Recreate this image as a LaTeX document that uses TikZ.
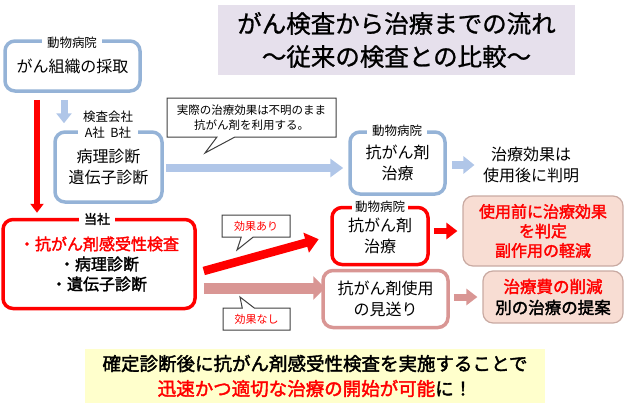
\documentclass[tikz,border=0pt]{standalone}
\usepackage{fontspec}
\setmainfont{Noto Sans CJK JP}[AutoFakeBold=2]
\newfontfamily\titlefont{Noto Sans CJK JP}[FakeBold=1]
\usepackage{xcolor}
\usetikzlibrary{arrows.meta,shapes.callouts}
\definecolor{boxblue}{HTML}{95B3D7}
\definecolor{arrblue}{HTML}{B0C6E8}
\definecolor{boxpink}{HTML}{D99694}
\definecolor{salmon}{HTML}{F8DDD3}
\definecolor{salmonline}{HTML}{C9AAA2}
\definecolor{lavender}{HTML}{E6E0EC}
\definecolor{paleyellow}{HTML}{FFFFCC}
\tikzstyle{blue box}=[
    draw = boxblue,
    line width = 3.5pt,
    fill = white,
    rounded corners = 10pt,
    align = center
]
\tikzstyle{red box}=[blue box, draw = red]
\tikzstyle{pink box}=[blue box, draw = boxpink]
\tikzstyle{result box}=[
    draw = salmonline,
    line width = 1.2pt,
    fill = salmon,
    rounded corners = 10pt,
    align = center,
    font = \fontsize{16}{19.5}\selectfont\bfseries
]
\tikzstyle{place}=[
    fill = white,
    inner xsep = 5pt,
    inner ysep = 1pt,
    align = center,
    font = \fontsize{12.5}{16}\selectfont
]
\tikzstyle{note}=[
    rectangle callout,
    draw = black!75,
    fill = white,
    line width = 1pt,
    align = center,
    inner sep = 2pt
]

\begin{document}
\begin{tikzpicture}[x=1pt, y=-1pt, font=\fontsize{16}{21}\selectfont]
        \useasboundingbox (0,0) rectangle (625,410);

        \node[fill = lavender, minimum width = 357, minimum height = 70, align = center,
              font = \fontsize{24.5}{33}\titlefont] (title) at (396.5,40)
              {がん検査から治療までの流れ\\～従来の検査との比較～};

        \node[blue box, minimum width = 135, minimum height = 50] (sample) at (72.5,66) {がん組織の採取};
        \node[place] (hosp1) at (72,43) {動物病院};

        \node[blue box, minimum width = 107, minimum height = 70] (lab) at (108.5,167) {病理診断\\遺伝子診断};
        \node[place] (labname) at (108,125) {検査会社\\A社\ \ B社};

        \node[blue box, minimum width = 95, minimum height = 62] (drug1) at (397.5,163) {抗がん剤\\治療};
        \node[place] (hosp2) at (397,131) {動物病院};
        \node[align = center] (after) at (531,165) {治療効果は\\使用後に判明};

        \node[red box, minimum width = 192, minimum height = 89, font = \fontsize{16}{20}\selectfont\bfseries]
              (us) at (99,264) {\textcolor{red}{・抗がん剤感受性検査}\\・病理診断\\・遺伝子診断};
        \node[place, font = \fontsize{13}{16}\selectfont\bfseries] (usname) at (97,219) {当社};

        \node[red box, minimum width = 96, minimum height = 57] (drug2) at (380,236) {抗がん剤\\治療};
        \node[place, inner xsep = 3pt] (hosp3) at (380,207) {動物病院};
        \node[result box, minimum width = 160, minimum height = 70, text = red] (merit) at (543,231)
              {使用前に治療効果\\を判定\\副作用の軽減};

        \node[pink box, minimum width = 125, minimum height = 57] (skip) at (385.5,299) {抗がん剤使用\\の見送り};
        \node[result box, minimum width = 140, minimum height = 52, font = \fontsize{16.5}{21}\selectfont\bfseries]
              (other) at (553,297) {\textcolor{red}{治療費の削減}\\別の治療の提案};

        \node[fill = paleyellow, minimum width = 460, minimum height = 54, align = center,
              font = \fontsize{18.5}{25}\selectfont\bfseries] (bottom) at (315,376)
              {確定診断後に抗がん剤感受性検査を実施することで\\\textcolor{red}{迅速かつ適切な治療の開始が可能}に！};

        % arrows
        \draw[arrblue, line width = 7pt, -{Triangle[width=15pt,length=10pt]}, shorten < = 7pt, shorten > = 7pt]
              ([xshift=-8.5]sample.south) -- ([xshift=-8.5]sample.south |- lab.north);
        \draw[red, line width = 5.5pt, -{Triangle[width=13pt,length=9pt]}, shorten < = 7pt, shorten > = 5pt]
              ([xshift=-35.5]sample.south) -- ([xshift=-35.5]sample.south |- us.north);
        \draw[arrblue, line width = 8pt, -{Triangle[width=18pt,length=13pt]}, shorten < = 2pt, shorten > = 5pt]
              ([yshift=-1]lab.east) -- ([yshift=-1]lab.east -| drug1.west);
        \draw[arrblue, line width = 8pt, -{Triangle[width=17pt,length=11pt]}, shorten < = 5pt, shorten > = 5pt]
              (drug1.east |- after.west) -- (after.west);
        \draw[red, line width = 8.5pt, -{Triangle[width=20pt,length=13pt]}, shorten > = 12pt]
              ([xshift=7,yshift=-7]us.east) -- (drug2.west);
        \draw[boxpink, line width = 11pt, -{Triangle[width=23pt,length=12pt]}, shorten > = 3pt]
              ([xshift=7,yshift=-24]us.east) -- ([xshift=7,yshift=-24]us.east -| skip.west);
        \draw[red, line width = 6.5pt, -{Triangle[width=16pt,length=11pt]}, shorten < = 4pt, shorten > = 5pt]
              (drug2.east |- merit.west) -- (merit.west);
        \draw[boxpink, line width = 7pt, -{Triangle[width=16pt,length=11pt]}, shorten < = 4pt, shorten > = 5pt]
              (skip.east |- other.west) -- (other.west);

        % notes
        \node[note, minimum width = 169, minimum height = 39, callout pointer width = 18pt,
              callout absolute pointer = {(205,153)}, font = \fontsize{11.5}{15}\selectfont]
              (unknown) at (251.5,117.5) {実際の治療効果は不明のまま\\抗がん剤を利用する。};
        \node[note, minimum width = 68, minimum height = 22, callout pointer width = 12pt, text = red,
              callout absolute pointer = {(237,250)}, font = \fontsize{11}{13}\selectfont]
              (yes) at (256,226) {効果あり};
        \node[note, minimum width = 67, minimum height = 22, callout pointer width = 12pt, text = red,
              callout absolute pointer = {(240,297)}, font = \fontsize{11}{13}\selectfont]
              (no) at (256.5,319) {効果なし};

    \end{tikzpicture}
\end{document}
